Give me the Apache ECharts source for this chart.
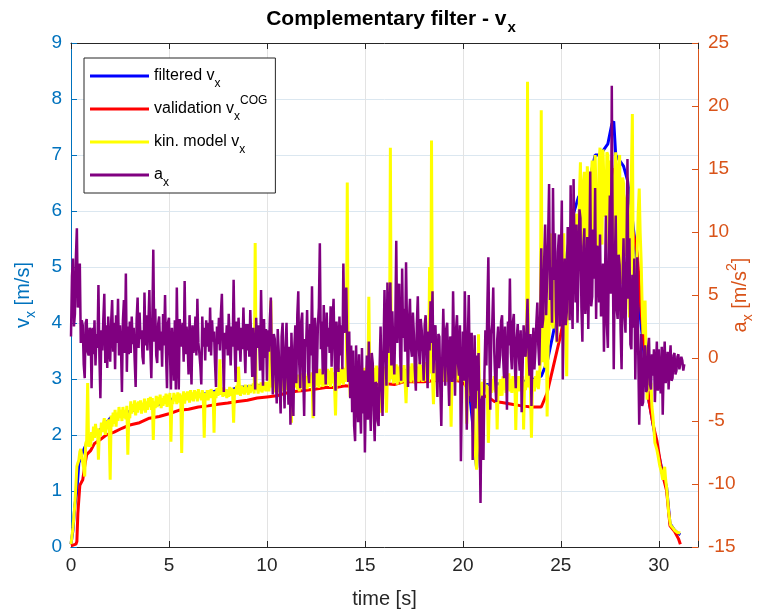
<!DOCTYPE html>
<html>
<head>
<meta charset="utf-8">
<script src="https://cdn.jsdelivr.net/npm/echarts@6/dist/echarts.min.js"></script>
<style>
  html, body { margin: 0; padding: 0; background: #fff; }
  #chart { width: 782px; height: 615px; }
</style>
</head>
<body>
<div id="chart"></div>
<script>
// ---------------- data ----------------
const sampleStep = 0.05; // s, sample spacing of the raw signals

// x tick labels
const xTickLabels = [0, 5, 10, 15, 20, 25, 30];

// a_x [m/s^2], sampled every 0.05 s from t = 0 (one row per second)
const accelX = [
  1.7, 6.5, 7.9, 2.5, 3.5, 8.0, 10.3, 4.0, 5.0, 7.5, 1.2, 3.0, 2.6, -0.5, -1.6, 2.8, 3.1, 0.5, 0.2, 2.4,
  2.1, -2.4, 2.4, 0.3, 3.0, -0.6, 1.9, 0.8, 5.8, 0.1, -3.2, 2.2, 0.6, 3.1, 5.1, -0.4, 2.6, -0.8, 3.3, 0.9,
  -0.3, 2.9, 4.6, 0.5, 2.8, -0.9, 3.4, 1.2, 4.7, 0.2, 2.6, 0.9, -2.7, 3.0, 4.6, 0.4, 6.7, -1.1, 2.5, 0.3,
  2.9, 0.4, 3.3, 1.1, 2.4, -0.2, -2.3, 3.1, 4.8, 0.8, 3.6, 1.5, 2.2, 0.1, -0.5, 5.2, 1.0, 3.4, 0.6, 2.7,
  5.4, 0.7, -1.6, 2.9, 8.6, 1.3, 3.9, 0.2, -0.4, 2.7, 3.3, 0.6, 2.1, -0.7, 3.5, 1.0, 5.0, 0.4, -2.4, 2.8,
  3.2, 0.5, -2.5, 2.4, 0.9, -1.8, 3.0, -2.5, 5.6, 0.3, -2.5, 3.1, 1.6, 0.9, 2.8, -0.3, 6.1, 0.3, 2.5, 1.1,
  -1.3, 3.4, 0.8, -2.1, 2.6, 0.4, 1.0, 3.3, 0.2, 4.7, 1.2, 0.4, -0.6, -2.1, 3.3, 0.9, 2.4, -0.2, 3.0, 0.9,
  2.8, 0.5, 4.0, 0.2, 3.0, 1.3, 2.1, -0.4, -2.3, 2.5, 1.1, 3.2, 0.6, 3.5, 5.1, 0.8, -2.7, 2.0, 0.7, 2.6,
  0.2, 3.5, 1.4, -0.6, 2.5, 0.9, 6.2, 1.1, -1.9, 2.9, 0.6, 3.2, 1.5, -0.3, 2.4, 0.7, 4.0, 1.0, -1.2, 2.7,
  0.6, 2.7, 0.1, 3.8, 1.2, -1.5, 2.4, 0.3, -2.5, 3.2, 0.8, 2.6, 1.5, -1.0, 5.4, 0.9, -2.2, 3.1, 0.0, 2.3,
  -1.8, 2.2, 0.5, 3.1, 4.8, -0.2, -2.9, 1.9, 1.5, -1.6, -3.6, 2.3, 0.6, -2.2, -4.4, 1.7, 2.8, -1.5, -4.0, 0.8,
  2.8, -1.4, -3.7, 0.9, -5.3, 2.0, -1.1, -4.6, 0.9, 2.6, -2.0, 3.4, 5.3, -0.5, -2.4, 2.9, 3.6, -1.2, -4.6, 1.5,
  0.9, 3.8, -1.1, -2.0, 2.7, 0.2, 5.7, -0.8, -4.6, 3.2, 1.4, -1.2, 2.6, 4.0, 9.1, 0.7, 2.9, -1.3, 4.2, 1.0,
  -2.1, 3.6, 0.9, 2.4, 0.4, 4.1, -0.7, 2.8, 4.7, 0.6, -2.6, 2.9, 1.3, -1.1, 3.3, 0.2, 2.6, -0.9, 7.5, 2.0,
  3.1, 5.6, 0.6, -1.9, 2.1, -3.2, 1.0, -4.3, 0.6, -5.4, -6.6, 1.0, -2.8, -5.1, 0.3, -3.9, -6.0, 0.8, -4.4, -1.0,
  -7.5, -2.6, 0.2, -4.9, 1.3, -3.3, -5.8, 0.4, -0.4, -4.2, -6.6, -1.9, -2.1, -5.0, -5.4, -0.8, 2.5, -2.2, -4.6, 0.6,
  5.4, 1.1, -2.2, 6.0, 0.4, 3.2, 6.0, -0.6, 3.7, 0.8, -1.3, 2.4, 9.3, 1.2, 3.6, 5.9, 0.1, -1.8, 7.1, 1.6,
  3.9, 0.5, 7.6, 2.1, -2.3, 3.0, 4.7, 0.8, 0.1, 3.6, 1.9, -1.0, -2.6, 2.7, 4.9, 0.9, -0.5, 3.1, 2.2, 0.4,
  -1.8, 2.6, 3.4, 0.3, -2.4, 2.1, 0.6, 4.5, 1.2, 5.3, -1.2, 2.0, 2.6, -0.4, -3.1, 1.9, 1.7, -2.5, -5.4, 0.2,
  3.9, 0.6, -2.2, 2.3, 2.8, -1.0, -3.8, 1.7, 1.5, -1.9, 5.3, 0.9, -3.0, 2.2, 3.4, -0.4, -1.4, 2.6, -8.2, -2.6,
  2.1, -1.8, 5.3, 0.7, -5.7, 1.2, 5.0, -1.1, -3.5, 2.0, -8.1, -2.4, 1.8, -4.0, 0.2, -2.6, 0.4, -5.2, -11.5, -3.4,
  -3.0, -8.1, -1.2, 2.2, -0.6, 4.1, 8.0, 0.9, -4.1, 1.9, 2.7, 5.6, 0.6, -1.7, -3.5, 1.4, 2.5, -0.8, 0.2, 2.9,
  3.4, 0.2, -1.6, 2.5, -0.3, -4.1, 2.9, 1.0, 6.3, 0.4, -0.9, 2.8, 3.5, -0.5, -2.4, 1.6, 2.7, 0.3, -1.0, 2.2,
  -4.3, -0.7, 2.6, 0.8, 0.1, 2.2, 4.7, 0.5, -1.4, 1.9, -3.8, 0.3, 2.4, -0.9, 0.5, 2.8, 4.4, 1.0, -0.6, 3.6,
  8.7, 2.4, 3.1, 7.8, 10.6, 3.4, 3.3, 9.5, 13.8, 4.6, 7.2, 2.8, 13.5, 6.2, 9.9, 3.7, 1.3, 8.4, 9.8, 2.5,
  7.6, 12.5, -1.7, 5.1, 7.9, 2.6, 3.6, 10.4, 9.2, 3.0, 13.7, 5.5, 2.3, 14.2, 8.1, 4.4, 10.6, 2.8, 6.9, 11.8,
  11.1, 4.0, 1.3, 8.8, 10.3, 3.5, 5.2, 9.6, 2.3, 7.4, 14.8, 4.1, 4.9, 10.2, 6.3, 13.5, 3.1, 8.9, 8.6, 4.4,
  9.8, 3.3, 4.2, 7.5, 0.5, 6.0, 11.3, 2.6, 0.8, 7.9, 12.9, 5.1, 21.6, 8.4, -0.9, 6.7, 11.3, 3.9, 3.1, 8.2,
  7.4, 2.2, -0.9, 6.1, 9.5, 3.4, 2.0, 8.3, 15.8, 4.7, 9.5, 1.1, 0.7, 6.6, 2.4, 7.9, -1.7, 3.3, 8.0, 0.5,
  -5.3, -1.2, 1.9, -3.8, -3.5, 0.4, 1.0, -2.7, -2.5, 0.8, 1.6, -2.1, -2.5, 0.3, -1.4, 0.7, -3.5, -1.0, 1.3, -2.6,
  0.7, -1.9, -2.8, 0.9, -4.5, -0.6, 1.3, -2.0, -1.2, 0.5, -2.5, -0.4, 1.0, -1.8, -1.6, 0.2, 0.4, -1.3, -1.0, 0.1,
  0.3, -0.9, -0.8, 0.1, -0.2, -1.0, -0.5
];

// kinematic model v_x [m/s], sampled every 0.05 s from t = 0 (one row per second)
const kinModelVx = [
  0.05, 0.2, 0.35, 0.55, 0.78, 1.1, 1.44, 1.5, 1.55, 1.7, 1.75, 1.62, 1.6, 1.4, 1.26, 1.85, 1.9, 2.93, 1.79, 2.0,
  1.79, 2.05, 1.9, 2.15, 1.95, 2.2, 2.0, 2.12, 1.56, 2.1, 1.98, 2.22, 2.05, 2.2, 2.3, 2.0, 2.25, 2.1, 2.28, 2.05,
  1.2, 2.35, 2.15, 2.4, 2.2, 2.45, 2.15, 2.4, 2.25, 2.5, 2.3, 2.45, 2.25, 2.5, 2.3, 2.45, 2.28, 2.52, 1.65, 2.35,
  2.3, 2.6, 2.38, 2.55, 2.42, 2.62, 2.35, 2.58, 2.4, 2.6, 2.45, 2.62, 2.38, 2.58, 2.44, 2.65, 2.4, 2.6, 2.45, 2.66,
  2.5, 2.68, 2.45, 2.66, 1.91, 2.6, 2.48, 2.7, 2.5, 2.68, 2.55, 2.72, 2.48, 2.66, 2.52, 2.7, 2.55, 2.74, 2.5, 2.72,
  2.58, 2.75, 1.88, 2.62, 2.55, 2.75, 2.6, 2.72, 2.55, 2.76, 2.58, 2.74, 2.62, 1.68, 2.6, 2.78, 2.56, 2.75, 2.62, 2.78,
  2.72, 2.58, 2.8, 2.62, 2.76, 2.6, 2.8, 2.65, 2.78, 2.6, 2.82, 2.66, 2.75, 2.62, 2.8, 2.68, 1.95, 2.75, 2.64, 2.8,
  2.62, 2.8, 2.66, 2.82, 2.7, 2.78, 2.04, 2.78, 2.66, 2.84, 2.7, 2.8, 3.35, 2.72, 2.84, 2.68, 2.85, 2.7, 2.82, 2.66,
  2.8, 2.68, 2.86, 2.7, 2.84, 2.72, 2.22, 2.82, 2.75, 2.88, 2.72, 3.22, 2.82, 2.7, 2.88, 2.74, 2.86, 2.72, 2.9, 2.76,
  2.85, 2.72, 2.9, 2.75, 2.88, 2.78, 2.92, 2.74, 5.43, 2.8, 2.92, 2.74, 2.9, 2.78, 2.94, 2.76, 2.88, 2.8, 2.95, 2.78,
  2.8, 2.95, 2.78, 2.98, 4.4, 2.85, 3.0, 2.76, 2.98, 2.8, 3.02, 2.76, 2.98, 2.8, 3.05, 2.78, 3.0, 2.82, 3.04, 2.8,
  3.4, 2.8, 2.95, 2.82, 3.05, 2.22, 3.02, 2.8, 3.08, 2.85, 3.05, 2.82, 3.08, 2.78, 3.02, 2.84, 3.1, 2.8, 3.06, 2.86,
  3.05, 2.82, 3.1, 2.86, 3.08, 2.9, 3.12, 2.3, 3.1, 2.85, 3.15, 2.88, 3.1, 2.84, 3.18, 2.9, 3.12, 2.86, 3.15, 2.88,
  3.1, 2.88, 3.18, 2.9, 3.15, 2.86, 3.2, 2.92, 3.12, 2.88, 2.35, 3.15, 2.9, 3.2, 2.88, 3.18, 2.92, 3.22, 2.9, 3.2,
  2.95, 3.22, 6.51, 3.0, 3.2, 2.68, 3.18, 2.9, 3.22, 2.92, 3.2, 2.88, 3.24, 2.95, 3.18, 2.9, 3.22, 2.94, 3.2, 2.9,
  3.2, 2.92, 3.24, 2.95, 4.47, 3.0, 3.22, 2.9, 3.25, 2.94, 3.2, 2.92, 3.24, 2.95, 3.2, 2.9, 2.4, 3.1, 3.22, 2.94,
  3.22, 2.95, 2.4, 3.1, 3.24, 2.95, 7.13, 3.0, 3.25, 2.92, 3.2, 2.95, 3.26, 2.9, 3.22, 2.96, 3.25, 2.92, 3.2, 2.95,
  3.25, 2.95, 2.57, 3.1, 3.26, 2.96, 3.22, 2.94, 3.28, 2.98, 3.24, 2.92, 3.27, 2.96, 3.22, 2.95, 3.3, 2.98, 3.25, 2.95,
  3.26, 2.96, 3.3, 2.98, 3.25, 2.95, 5.0, 3.1, 7.26, 3.0, 2.55, 3.15, 3.28, 2.96, 3.25, 2.98, 3.3, 2.94, 3.26, 2.96,
  3.28, 2.98, 3.3, 2.95, 3.26, 3.0, 3.3, 2.96, 2.15, 3.1, 3.28, 2.98, 3.25, 2.95, 3.3, 3.0, 3.26, 2.96, 3.28, 3.0,
  3.2, 2.95, 3.15, 2.85, 2.2, 3.0, 3.15, 2.8, 2.7, 3.05, 2.4, 2.6, 1.9, 1.6, 1.38, 1.8, 3.8, 2.6, 2.85, 2.6,
  2.95, 2.72, 3.0, 2.78, 2.9, 2.7, 1.86, 2.6, 2.95, 2.75, 3.0, 2.8, 3.05, 2.76, 2.95, 2.1, 2.85, 2.7, 3.0, 2.78,
  2.7, 3.05, 2.8, 3.0, 2.75, 2.95, 2.8, 3.1, 2.78, 3.0, 2.75, 3.05, 2.8, 3.0, 2.09, 2.85, 2.8, 3.05, 2.78, 3.0,
  2.9, 3.05, 2.1, 2.95, 2.8, 3.1, 8.31, 2.85, 3.0, 2.8, 1.95, 2.9, 3.0, 2.78, 3.05, 2.85, 3.15, 2.82, 3.0, 3.3,
  7.8, 3.3, 4.0, 4.2, 3.2, 4.4, 2.33, 3.6, 3.8, 4.9, 5.6, 4.0, 3.9, 5.2, 5.1, 4.1, 3.65, 5.0, 5.3, 4.2,
  4.1, 5.3, 4.8, 5.6, 5.6, 3.8, 3.05, 4.9, 5.6, 4.6, 4.3, 5.7, 5.8, 4.9, 4.6, 5.85, 5.95, 4.8, 5.2, 6.3,
  6.87, 5.0, 4.6, 6.5, 6.7, 5.2, 5.3, 6.8, 6.45, 4.9, 4.8, 6.6, 6.9, 5.4, 5.6, 7.0, 7.0, 5.5, 5.0, 6.9,
  7.13, 5.6, 5.4, 7.1, 7.1, 5.9, 6.0, 7.05, 7.0, 5.4, 5.2, 6.9, 6.8, 5.0, 4.5, 6.5, 7.05, 4.9, 4.6, 6.8,
  7.0, 5.0, 4.7, 6.6, 6.5, 5.3, 5.2, 6.2, 6.3, 4.6, 4.1, 5.6, 5.6, 7.73, 4.6, 4.1, 4.1, 5.0, 5.3, 6.0,
  6.4, 5.6, 5.1, 4.3, 3.8, 4.0, 4.4, 3.4, 2.63, 3.2, 3.1, 2.8, 2.93, 2.5, 2.33, 2.1, 1.86, 1.8, 1.74, 1.65,
  1.55, 1.45, 1.38, 1.3, 1.2, 1.35, 1.43, 1.2, 1.06, 0.85, 0.62, 0.5, 0.39, 0.37, 0.35, 0.33, 0.3, 0.28, 0.27, 0.26,
  0.25, 0.25, 0.25
];

// filtered v_x [m/s]
const filteredT = [0, 0.1, 0.2, 0.3, 0.4, 0.6, 0.8, 1.0, 1.3, 1.6, 2.0, 2.5, 3.0, 3.5, 4.0, 4.5, 5.0, 5.5, 6.0, 6.5, 7.0, 7.5, 8.0, 8.5, 9.0, 9.5, 10, 10.5, 11, 11.5, 12, 12.5, 13, 13.5, 14, 14.5, 15, 15.5, 16, 16.5, 17, 17.5, 18, 18.5, 19, 19.5, 20, 20.3, 20.5, 20.7, 20.8, 21.0, 21.5, 22, 22.5, 23, 23.5, 24, 24.3, 24.6, 25.0, 25.3, 25.6, 25.9, 26.2, 26.5, 26.75, 27.0, 27.4, 27.6, 27.7, 27.8, 28.0, 28.2, 28.4, 28.5, 28.6, 28.8, 29.0, 29.2, 29.45, 29.7, 29.9, 30.15, 30.4, 30.57, 30.8, 31.0, 31.1];
const filteredV = [0.05, 0.3, 0.75, 1.0, 1.5, 1.7, 1.85, 1.95, 2.05, 2.12, 2.3, 2.38, 2.42, 2.48, 2.55, 2.55, 2.62, 2.68, 2.66, 2.72, 2.74, 2.8, 2.78, 2.85, 2.86, 2.88, 2.9, 2.93, 2.97, 3.0, 3.02, 3.05, 3.05, 3.08, 3.1, 3.08, 3.1, 3.12, 3.1, 3.14, 3.15, 3.15, 3.17, 3.15, 3.18, 3.15, 3.1, 2.9, 2.2, 1.41, 1.9, 2.9, 2.9, 2.92, 2.95, 2.95, 2.98, 3.05, 3.3, 3.8, 4.5, 5.2, 5.9, 6.25, 6.4, 6.6, 7.0, 7.0, 7.2, 7.55, 7.6, 7.0, 6.9, 6.8, 6.55, 6.3, 6.0, 5.4, 4.3, 3.6, 2.7, 2.2, 1.8, 1.4, 1.06, 0.42, 0.3, 0.24, 0.22];

// validation v_x^COG [m/s]
const validationT = [0, 0.25, 0.3, 0.35, 0.4, 0.45, 0.6, 0.7, 0.8, 1.0, 1.2, 1.5, 1.8, 2.2, 2.6, 3.0, 3.5, 4.0, 4.5, 5.0, 5.5, 6.0, 6.5, 7.0, 7.5, 8.0, 8.5, 9.0, 9.5, 10.0, 10.5, 11, 11.5, 12, 12.5, 13, 13.5, 14, 14.5, 15, 15.5, 16, 16.5, 17, 17.5, 18, 18.5, 19, 19.5, 20, 20.3, 20.6, 20.9, 21.2, 21.6, 22, 22.5, 23, 23.5, 24.0, 24.3, 24.6, 25.0, 25.5, 26.0, 26.5, 27.0, 27.5, 27.7, 27.9, 28.1, 28.4, 28.7, 28.9, 29.1, 29.3, 29.5, 29.7, 29.9, 30.15, 30.4, 30.57, 30.8, 31.0, 31.1];
const validationV = [0.02, 0.05, 0.1, 0.6, 0.85, 1.1, 1.2, 1.45, 1.65, 1.72, 1.85, 1.92, 2.0, 2.05, 2.12, 2.18, 2.22, 2.3, 2.33, 2.38, 2.44, 2.46, 2.5, 2.52, 2.55, 2.57, 2.6, 2.62, 2.66, 2.68, 2.7, 2.75, 2.78, 2.8, 2.82, 2.85, 2.85, 2.88, 2.86, 2.9, 2.9, 2.92, 2.9, 2.95, 2.95, 2.95, 2.97, 2.98, 2.98, 2.95, 2.8, 2.55, 2.65, 2.7, 2.6, 2.58, 2.55, 2.52, 2.5, 2.5, 2.75, 3.2, 3.8, 4.8, 5.5, 5.95, 6.3, 6.7, 6.75, 6.4, 6.15, 5.9, 5.6, 5.25, 4.2, 3.45, 2.6, 2.2, 1.9, 1.35, 1.0, 0.38, 0.28, 0.15, 0.05];

// ---------------- build ----------------
const FONT = '"Liberation Sans", Arial, Helvetica, sans-serif';
const sampled = (vals) => vals.map((v, i) => [Math.round(i * sampleStep * 1000) / 1000, v]);
const paired = (ts, vs) => ts.map((t, i) => [t, vs[i]]);

const legendLabels = {
  filtered: '{n|filtered v}{sub|x}',
  validation: '{n|validation v}{sub|x}{sup|COG}',
  kin: '{n|kin. model v}{sub|x}',
  ax: '{n|a}{sub|x}'
};

const chart = echarts.init(document.getElementById('chart'), null, { renderer: 'canvas' });

chart.setOption({
  animation: false,
  backgroundColor: '#ffffff',
  textStyle: { fontFamily: FONT },
  title: {
    text: '{t|Complementary filter - v}{s|x}',
    left: 'center',
    top: 2,
    textStyle: {
      rich: {
        t: { fontFamily: FONT, fontSize: 21, fontWeight: 'bold', color: '#000', lineHeight: 24 },
        s: { fontFamily: FONT, fontSize: 15, fontWeight: 'bold', color: '#000', lineHeight: 15, padding: [18, 0, 0, 1] }
      }
    }
  },
  grid: { left: 69, right: 84, top: 43, bottom: 68, containLabel: false },
  legend: {
    orient: 'vertical',
    left: 84,
    top: 58,
    padding: [4, 8, 4, 6],
    itemGap: 5,
    itemWidth: 59,
    itemHeight: 3,
    icon: 'rect',
    backgroundColor: '#ffffff',
    borderColor: '#262626',
    borderWidth: 1,
    borderRadius: 0,
    data: ['filtered', 'validation', 'kin', 'ax'],
    formatter: (name) => legendLabels[name],
    textStyle: {
      color: '#000',
      fontSize: 16,
      rich: {
        n: { fontFamily: FONT, fontSize: 16, color: '#000', lineHeight: 20 },
        sub: { fontFamily: FONT, fontSize: 12, color: '#000', lineHeight: 12, padding: [16, 0, 0, 0] },
        sup: { fontFamily: FONT, fontSize: 12, color: '#000', lineHeight: 12, padding: [0, 0, 16, 0] }
      }
    }
  },
  xAxis: [
    {
      type: 'value', min: 0, max: 32, interval: 5, position: 'bottom',
      axisLine: { show: true, onZero: false, lineStyle: { color: '#262626', width: 1 } },
      axisTick: { show: true, inside: true, length: 6, lineStyle: { color: '#262626' } },
      axisLabel: {
        color: '#262626', fontSize: 19, margin: 9, fontFamily: FONT,
        formatter: (v) => (xTickLabels.indexOf(v) >= 0 ? String(v) : '')
      },
      splitLine: { show: true, lineStyle: { color: '#e3e3e3', width: 1 } },
      name: 'time [s]', nameLocation: 'middle', nameGap: 42,
      nameTextStyle: { fontSize: 20, color: '#262626', fontFamily: FONT }
    },
    {
      type: 'value', min: 0, max: 32, interval: 5, position: 'top',
      axisLine: { show: true, onZero: false, lineStyle: { color: '#262626', width: 1 } },
      axisTick: { show: true, inside: true, length: 6, lineStyle: { color: '#262626' } },
      axisLabel: { show: false },
      splitLine: { show: false }
    }
  ],
  yAxis: [
    {
      type: 'value', min: 0, max: 9, interval: 1, position: 'left',
      axisLine: { show: true, onZero: false, lineStyle: { color: '#0072BD', width: 1 } },
      axisTick: { show: true, inside: true, length: 6, lineStyle: { color: '#0072BD' } },
      axisLabel: { color: '#0072BD', fontSize: 19, margin: 9, fontFamily: FONT },
      splitLine: { show: true, lineStyle: { color: '#dbe7f0', width: 1 } },
      name: '{n|v}{s|x}{n| [m/s]}', nameLocation: 'middle', nameRotate: 90, nameGap: 37,
      nameTextStyle: {
        rich: {
          n: { fontFamily: FONT, fontSize: 20, color: '#0072BD', lineHeight: 22 },
          s: { fontFamily: FONT, fontSize: 14, color: '#0072BD', lineHeight: 14, padding: [16, 0, 0, 0] }
        }
      }
    },
    {
      type: 'value', min: -15, max: 25, interval: 5, position: 'right',
      axisLine: { show: true, onZero: false, lineStyle: { color: '#D95319', width: 1 } },
      axisTick: { show: true, inside: true, length: 6, lineStyle: { color: '#D95319' } },
      axisLabel: { color: '#D95319', fontSize: 19, margin: 10, fontFamily: FONT },
      splitLine: { show: false },
      name: '{n|a}{s|x}{n| [m/s}{p|2}{n|]}', nameLocation: 'middle', nameRotate: 90, nameGap: 31,
      nameMoveOverlap: false,
      nameTextStyle: {
        rich: {
          n: { fontFamily: FONT, fontSize: 20, color: '#D95319', lineHeight: 22 },
          s: { fontFamily: FONT, fontSize: 14, color: '#D95319', lineHeight: 14, padding: [16, 0, 0, 0] },
          p: { fontFamily: FONT, fontSize: 14, color: '#D95319', lineHeight: 14, padding: [0, 0, 16, 0] }
        }
      }
    }
  ],
  series: [
    {
      name: 'filtered', type: 'line', xAxisIndex: 0, yAxisIndex: 0, z: 2,
      data: paired(filteredT, filteredV),
      symbol: 'none', showSymbol: false, smooth: false,
      lineStyle: { color: '#0000FF', width: 3 }, itemStyle: { color: '#0000FF' }
    },
    {
      name: 'validation', type: 'line', xAxisIndex: 0, yAxisIndex: 0, z: 3,
      data: paired(validationT, validationV),
      symbol: 'none', showSymbol: false,
      lineStyle: { color: '#FF0000', width: 3 }, itemStyle: { color: '#FF0000' }
    },
    {
      name: 'kin', type: 'line', xAxisIndex: 0, yAxisIndex: 0, z: 4,
      data: sampled(kinModelVx),
      symbol: 'none', showSymbol: false,
      lineStyle: { color: '#FFFF00', width: 3 }, itemStyle: { color: '#FFFF00' }
    },
    {
      name: 'ax', type: 'line', xAxisIndex: 0, yAxisIndex: 1, z: 5,
      data: sampled(accelX),
      symbol: 'none', showSymbol: false,
      lineStyle: { color: '#800080', width: 2.5 }, itemStyle: { color: '#800080' }
    }
  ]
});
</script>
</body>
</html>
